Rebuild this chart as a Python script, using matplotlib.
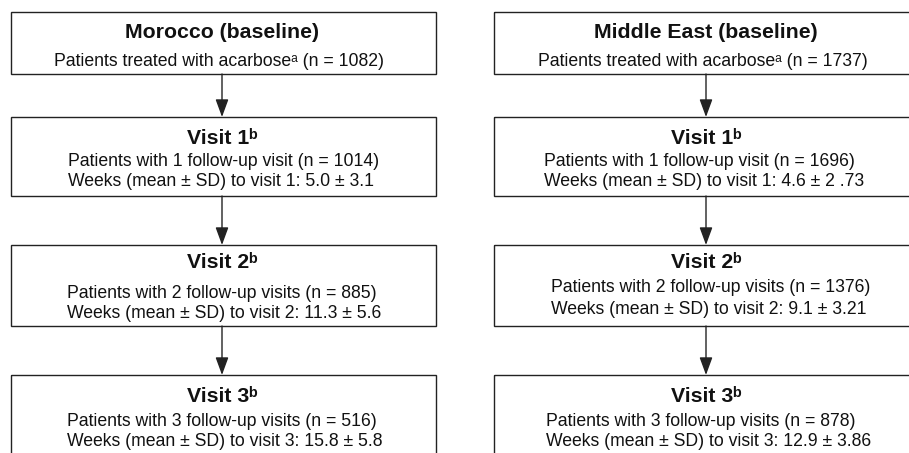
import matplotlib
matplotlib.use("Agg")
import matplotlib.pyplot as plt
from matplotlib.patches import Rectangle, FancyArrowPatch

# ---- data ----
regions = ["Morocco", "Middle East"]
baseline_n = [1082, 1737]
visits = [1, 2, 3]
visit_n = [[1014, 885, 516], [1696, 1376, 878]]
weeks_mean = [["5.0", "11.3", "15.8"], ["4.6", "9.1", "12.9"]]
weeks_sd = [["3.1", "5.6", "5.8"], ["2 .73", "3.21", "3.86"]]

# ---- layout (pixels) ----
W, H = 909, 453
col_left = [11, 494]
col_center = [222, 706]
box_w = 425
row_top = [12, 117, 245, 375]
row_bot = [74, 196, 326, 470]
FAM = ["Liberation Sans", "DejaVu Sans"]
FS = 12.7
FS_T = 15.3
INK = "#111111"

# text y centres per column / row
title_y = [[33, 139, 263, 397], [33, 139, 263, 396]]
l2_y = [[61, 162, 293, 422], [61, 162, 288, 422]]
l3_y = [[None, 182, 313, 442], [None, 182, 310, 442]]
text_x = [[68, 67, 67], [544, 551, 546]]

fig = plt.figure(figsize=(W / 100, H / 100), dpi=100)
ax = fig.add_axes([0, 0, 1, 1])
ax.set_xlim(0, W)
ax.set_ylim(H, 0)
ax.axis("off")

def box(x0, y0, y1):
    ax.add_patch(Rectangle((x0, y0), box_w, y1 - y0, fill=False,
                           edgecolor="#222222", linewidth=1.0, clip_on=True))

def arrow(x, y0, y1):
    ax.add_patch(FancyArrowPatch((x, y0), (x, y1),
                                 arrowstyle="-|>,head_length=0.9,head_width=0.33",
                                 mutation_scale=12, color="#222222", linewidth=1.0,
                                 shrinkA=0, shrinkB=0))

for c in range(2):
    x0 = col_left[c]
    cx = col_center[c]
    for r in range(4):
        box(x0, row_top[r], row_bot[r])
        if r < 3:
            arrow(cx, row_bot[r], row_top[r + 1])
    ax.text(cx, title_y[c][0], f"{regions[c]} (baseline)", ha="center", va="center",
            fontsize=FS_T, fontweight="bold", family=FAM, color=INK)
    ax.text(cx - 3, l2_y[c][0], f"Patients treated with acarbose\u1d43 (n = {baseline_n[c]})",
            ha="center", va="center", fontsize=FS, family=FAM, color=INK)
    for i, v in enumerate(visits):
        r = i + 1
        ax.text(cx, title_y[c][r], f"Visit {v}\u1d47", ha="center", va="center",
                fontsize=FS_T, fontweight="bold", family=FAM, color=INK)
        s = "s" if v > 1 else ""
        ax.text(text_x[c][i], l2_y[c][r],
                f"Patients with {v} follow-up visit{s} (n = {visit_n[c][i]})",
                ha="left", va="center", fontsize=FS, family=FAM, color=INK)
        ax.text(text_x[c][i], l3_y[c][r],
                f"Weeks (mean \u00b1 SD) to visit {v}: {weeks_mean[c][i]} \u00b1 {weeks_sd[c][i]}",
                ha="left", va="center", fontsize=FS, family=FAM, color=INK)

fig.savefig("out.png", dpi=100, facecolor="white")
